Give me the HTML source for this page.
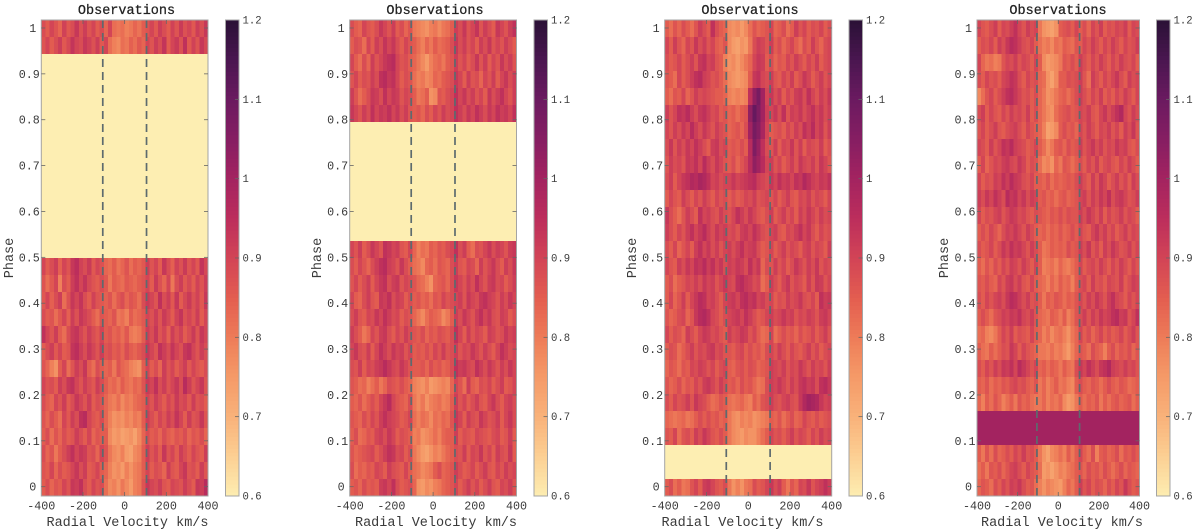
<!DOCTYPE html>
<html lang="en">
<head>
<meta charset="utf-8">
<title>Observations phase maps</title>
<style>
html,body{margin:0;padding:0;background:#fff;width:1200px;height:532px;overflow:hidden}
svg{display:block}
text{font-family:"Liberation Mono","DejaVu Sans Mono",monospace;fill:#3a3a3a}
</style>
</head>
<body>
<svg id="figure" xmlns="http://www.w3.org/2000/svg" width="1200" height="532" viewBox="0 0 1200 532"></svg>
<script>
const velocityTicks=[-400,-200,0,200,400];
const phaseTicks=[0,0.1,0.2,0.3,0.4,0.5,0.6,0.7,0.8,0.9,1];
const colorbarTicks=[0.6,0.7,0.8,0.9,1,1.1,1.2];
const markerVelocities=[-105,105];
const colormapColors=["#fdeeb2","#fccf93","#f9b27a","#f59a68","#ee7c58","#e35d50","#d24456","#bc2e5c","#a32360","#861e62","#6b1a60","#4a1650","#2a1136"];

// Flux values in hundredths, one array per phase row, top row first. A one-value row fills the whole row.
const panel1Rows=[
[88,84,90,86,82,91,85,88,94,87,92,86,90,84,88,82,90,80,78,80,76,78,82,79,84,86,90,85,92,88,84,91,86,93,87,90,85,92,88,94],
[86,90,84,88,92,85,89,95,90,88,94,91,87,92,85,90,80,76,74,80,78,83,80,85,82,90,86,92,88,95,84,90,93,87,96,85,91,86,94,89],
[60],[60],[60],[60],[60],[60],[60],[60],[60],[60],[60],[60],
[90,84,88,92,83,90,86,94,97,91,88,93,85,90,87,82,80,84,79,82,86,80,84,82,85,92,86,90,84,94,88,83,91,87,93,86,90,85,95,89],
[86,80,85,90,76,88,84,92,96,90,95,89,86,84,88,85,78,84,82,80,85,83,81,84,86,90,84,93,87,82,90,78,88,92,85,89,84,91,86,92],
[85,90,83,88,92,80,87,94,90,95,88,84,91,86,85,83,86,80,85,88,82,86,84,80,88,93,90,86,96,88,92,85,94,84,89,93,87,91,85,94],
[88,84,86,80,85,90,83,92,87,94,91,88,84,80,86,84,82,86,78,80,76,84,80,82,85,90,87,92,86,93,89,84,91,95,87,90,86,92,84,90],
[96,90,86,92,84,80,88,93,95,90,86,92,88,85,90,84,86,82,84,80,85,78,76,78,84,92,88,94,86,90,83,92,87,91,84,88,93,86,94,90],
[84,88,92,85,90,84,86,95,97,92,88,94,90,86,92,86,88,84,86,82,88,84,82,85,88,94,90,86,96,92,88,95,90,87,94,96,90,86,92,88],
[86,82,76,72,84,90,80,86,92,88,94,84,80,88,84,82,84,78,86,82,80,76,74,72,84,90,84,88,82,92,86,90,84,88,92,85,90,86,84,88],
[90,86,88,84,92,88,94,96,90,86,92,88,85,92,88,84,80,82,78,84,80,78,82,80,86,93,90,96,88,92,86,90,94,88,98,92,86,90,94,86],
[88,84,82,90,86,92,84,88,94,90,86,92,84,88,86,82,78,76,80,74,78,76,80,82,84,90,86,92,88,84,90,86,93,88,90,85,92,86,88,84],
[86,82,88,84,80,90,85,92,88,96,98,90,86,84,88,82,76,72,74,72,76,74,78,76,84,92,88,84,90,86,92,88,95,90,84,92,86,88,94,86],
[84,88,80,86,82,88,84,86,92,88,84,90,82,86,84,84,74,70,72,68,70,72,68,74,82,88,84,86,82,88,84,82,86,84,88,82,86,84,88,82],
[88,82,86,78,84,88,92,96,90,94,92,86,88,82,90,86,78,74,72,76,70,68,74,76,84,92,86,90,84,94,86,90,84,92,88,84,90,86,84,92],
[86,84,90,82,88,84,86,90,94,88,92,84,86,90,84,82,76,72,74,70,76,72,76,78,84,90,84,88,86,82,92,86,84,90,94,86,88,84,92,86],
[84,88,82,86,84,90,86,94,92,96,88,84,90,86,88,80,74,76,72,78,74,70,76,78,86,94,90,88,92,86,84,90,88,86,92,88,84,94,92,98]
];
const panel2Rows=[
[88,84,82,90,86,84,88,94,90,86,92,84,88,82,86,78,76,74,72,76,78,74,78,80,84,92,88,94,86,90,95,86,92,88,84,94,90,86,92,96],
[84,88,86,80,90,84,92,88,95,90,94,88,84,90,86,84,80,76,82,78,84,80,82,84,88,94,88,92,86,90,84,92,88,94,86,90,86,92,88,84],
[90,84,80,88,82,92,86,90,94,96,98,90,86,88,84,82,78,74,70,76,80,82,78,84,86,92,86,90,84,88,94,86,92,84,90,86,94,88,92,86],
[86,90,84,88,86,92,88,96,98,94,96,90,84,88,86,80,76,78,74,76,82,80,84,86,88,94,90,84,92,86,88,82,90,86,92,84,90,94,88,92],
[92,86,80,84,88,94,92,88,96,90,94,92,86,90,88,84,78,80,84,72,74,86,84,88,90,96,90,94,88,92,86,90,84,94,88,92,96,90,86,92],
[94,90,86,92,88,96,90,94,92,96,90,94,88,92,86,84,86,82,88,84,90,86,92,88,90,96,92,88,94,90,96,92,88,94,90,96,92,94,90,96],
[60],[60],[60],[60],[60],[60],[60],
[90,86,92,84,88,94,90,86,96,94,90,92,86,84,90,82,76,80,78,84,82,86,84,88,90,96,88,92,84,80,88,86,90,94,88,92,90,86,92,94],
[88,84,90,86,82,88,92,96,98,92,90,86,94,88,84,80,78,74,82,84,80,86,84,82,88,92,86,84,90,88,82,92,86,90,94,88,84,92,88,94],
[86,90,84,88,92,84,90,94,96,88,92,94,86,90,88,86,82,80,76,72,82,84,86,82,88,94,90,86,92,88,96,90,86,92,94,88,90,84,88,92],
[90,84,82,88,92,86,84,94,92,96,88,92,90,84,88,84,86,82,84,80,86,84,90,86,88,90,92,86,94,90,88,94,96,92,90,86,92,88,94,90],
[88,92,86,84,90,88,94,90,96,92,88,90,84,88,86,82,78,74,80,84,82,80,74,78,84,92,88,94,90,86,92,96,90,94,88,86,92,90,84,88],
[92,88,84,78,82,90,86,92,94,88,84,90,86,92,88,86,84,88,82,86,84,88,86,84,88,96,90,84,92,86,90,88,84,92,90,86,88,94,90,92],
[90,94,88,86,92,84,90,96,92,88,94,90,92,86,90,84,86,84,88,84,90,86,92,86,88,92,86,90,88,94,90,86,92,88,84,90,96,92,88,90],
[88,86,92,84,90,88,92,94,98,94,90,88,94,90,86,84,84,86,82,88,84,86,82,84,88,96,92,94,90,88,96,92,88,94,90,86,92,88,94,90],
[86,84,80,82,76,80,84,78,82,88,86,84,88,84,82,76,74,72,76,70,72,74,76,74,82,90,86,80,92,84,82,88,86,90,84,88,92,84,86,90],
[84,82,86,80,84,88,84,90,94,98,90,86,84,82,88,78,74,78,72,76,78,80,76,78,84,92,86,90,84,88,92,86,84,90,94,88,84,90,92,88],
[86,84,82,88,84,90,86,92,96,92,90,88,84,86,90,80,76,80,78,74,80,78,82,80,86,94,90,84,92,88,86,94,90,86,88,92,84,90,94,88],
[84,88,80,82,86,84,90,92,88,94,90,84,88,86,84,76,78,72,74,76,80,76,82,84,84,92,84,88,86,84,90,88,86,84,88,90,84,86,92,84],
[86,82,84,86,88,90,84,88,92,96,94,88,90,84,88,78,74,70,68,72,76,74,78,82,84,88,86,92,84,90,88,94,86,90,84,92,88,86,94,84],
[88,80,84,82,86,84,90,88,84,92,88,86,84,90,84,80,78,74,76,78,84,88,82,84,86,92,88,84,86,90,84,88,92,86,84,90,86,92,88,90],
[84,86,82,88,84,86,84,92,94,90,96,88,84,86,88,82,72,70,74,72,76,78,82,84,86,90,84,88,92,86,90,84,88,92,86,84,90,88,92,86]
];
const panel3Rows=[
[84,80,86,82,88,84,80,86,92,88,84,96,88,84,82,74,72,74,70,74,80,86,82,84,86,90,82,84,88,80,84,92,86,90,84,88,86,90,84,88],
[90,84,92,86,82,90,86,94,88,92,86,90,84,82,86,74,70,68,72,70,78,88,92,90,86,92,84,88,82,86,90,84,80,88,84,92,86,82,88,90],
[88,84,86,90,84,88,92,86,94,96,90,92,86,84,76,72,74,70,74,78,82,90,94,92,84,88,82,86,84,90,86,92,88,84,90,86,92,84,88,90],
[86,84,80,90,84,88,92,96,98,92,90,86,88,84,80,74,72,70,72,74,84,94,96,90,88,92,86,84,90,86,92,84,88,94,90,84,88,92,86,90],
[84,80,86,84,90,82,86,92,88,90,88,86,84,84,82,76,74,76,74,76,96,108,114,104,90,94,88,92,84,90,86,92,94,88,96,90,86,92,88,94],
[92,86,90,96,94,98,92,88,94,96,92,88,90,84,86,82,84,80,84,86,108,118,112,104,92,90,94,88,96,86,92,90,94,88,92,96,90,94,88,92],
[90,86,92,88,94,90,98,92,88,94,90,86,92,88,86,82,84,86,82,88,104,114,110,102,90,84,86,88,84,90,86,92,88,96,92,98,90,94,86,92],
[88,94,86,92,88,94,90,96,92,88,84,92,94,88,90,84,86,84,88,84,98,112,106,96,88,86,92,84,90,88,94,86,92,84,90,88,86,92,84,88],
[86,92,88,90,86,94,92,96,90,98,92,88,94,90,86,84,88,82,86,90,98,108,104,98,90,92,86,90,84,88,92,86,94,90,88,92,86,94,90,86],
[88,92,84,90,94,96,100,98,102,100,96,90,92,88,90,90,94,90,92,94,96,98,92,90,88,94,90,96,92,94,90,96,94,100,96,92,90,94,92,96],
[84,90,86,84,92,88,84,90,86,92,88,84,90,86,88,84,88,84,86,90,88,92,86,88,90,86,90,84,88,92,86,84,90,88,92,86,90,88,84,90],
[94,88,84,80,86,92,88,84,96,90,92,88,86,92,88,86,90,96,92,88,94,90,86,84,88,92,84,88,92,86,90,84,92,88,94,90,86,92,88,90],
[92,88,84,90,86,92,96,90,94,98,92,88,94,90,92,88,90,86,92,94,90,96,92,88,86,90,92,86,84,90,88,92,96,90,94,88,84,90,86,88],
[88,84,90,82,86,90,84,92,96,90,94,88,92,86,90,92,88,92,96,90,92,94,88,84,86,90,84,88,92,86,90,88,84,90,92,86,90,88,84,92],
[90,86,84,92,88,94,90,96,94,98,92,96,90,94,88,92,90,94,92,88,96,90,94,82,88,86,92,86,90,84,88,94,90,86,92,88,94,86,90,88],
[84,88,80,84,86,90,88,92,88,94,90,92,86,90,94,90,88,96,98,94,92,88,90,80,84,92,88,84,90,94,86,90,88,84,92,86,94,92,86,90],
[84,90,82,86,92,84,90,94,98,96,90,92,88,84,90,92,94,90,96,98,94,96,90,92,88,90,84,88,86,92,88,90,94,88,86,90,84,96,92,94],
[86,82,84,88,90,82,86,94,98,100,96,90,88,84,88,90,92,94,90,96,92,88,84,86,90,92,88,90,94,90,92,86,90,88,92,90,86,92,94,90],
[90,84,88,86,82,92,88,84,90,94,92,88,90,86,84,92,88,90,94,92,86,90,84,80,82,90,80,84,88,84,86,82,88,84,86,90,84,88,92,86],
[84,88,86,80,84,88,92,86,90,88,92,94,88,90,86,86,84,88,90,84,88,84,86,82,88,90,86,92,88,84,90,86,84,88,92,86,90,84,88,90],
[82,86,84,80,86,84,90,88,92,90,86,90,84,88,90,84,82,86,88,84,88,86,82,84,86,92,90,88,92,86,90,88,94,90,86,92,88,90,86,92],
[86,82,84,88,82,86,84,90,86,92,94,90,86,92,88,84,86,82,88,84,86,82,78,80,88,92,90,94,90,86,92,88,94,96,92,94,88,96,98,94],
[88,84,90,86,88,92,86,94,90,88,84,80,82,86,84,80,78,80,82,78,76,84,80,86,88,92,88,86,90,92,88,86,94,100,104,102,100,94,90,92],
[82,80,78,80,82,78,80,84,88,84,88,84,86,82,84,78,74,72,76,74,76,72,74,76,78,84,82,86,80,84,88,82,84,90,86,84,88,84,86,88],
[86,84,90,80,86,88,84,92,88,94,90,86,84,88,84,78,74,72,70,74,72,72,76,80,84,90,86,88,84,88,92,86,90,88,84,90,86,92,88,90],
[60],[60],
[84,88,80,84,78,80,86,90,84,92,94,90,86,84,88,78,72,76,72,78,80,88,84,86,90,94,88,92,84,78,86,82,90,88,94,86,90,92,96,92]
];
const panel4Rows=[
[90,86,84,88,92,84,90,88,92,96,90,86,92,88,90,78,72,70,68,72,84,86,88,84,90,84,88,82,90,86,92,84,88,86,90,88,92,84,90,88],
[84,88,86,90,84,92,88,94,98,96,92,88,86,90,84,80,76,78,74,80,78,84,82,80,86,84,90,86,92,88,84,90,86,92,88,84,90,86,88,92],
[90,82,78,80,76,78,86,90,88,92,86,90,88,84,90,84,74,70,72,74,78,86,84,88,84,92,88,84,90,86,92,88,84,90,86,92,88,86,90,84],
[88,84,90,86,88,84,90,92,96,94,88,84,90,86,88,82,80,72,68,74,84,84,88,86,88,92,86,80,92,88,84,90,86,90,94,88,84,92,88,90],
[74,80,86,90,84,88,92,96,98,94,90,86,88,84,88,82,78,72,74,78,82,84,80,84,88,92,88,84,90,86,92,84,88,84,90,86,92,88,84,90],
[88,92,84,90,86,84,90,86,92,88,90,86,92,84,88,82,78,74,72,80,84,86,88,84,86,90,88,92,86,84,90,94,88,92,96,100,90,86,92,88],
[86,90,84,88,92,86,84,88,90,92,88,84,90,86,84,82,76,68,70,74,84,88,84,86,82,90,86,92,88,84,90,88,92,86,90,84,92,88,94,86],
[90,88,84,92,86,90,96,94,98,92,90,88,84,86,90,84,80,74,78,84,86,82,88,84,86,92,86,90,94,88,92,86,90,88,94,90,92,86,84,88],
[84,90,82,86,90,88,92,94,90,88,94,90,84,88,86,80,74,76,72,82,78,86,84,80,84,88,84,90,86,92,84,88,90,86,84,90,86,92,88,84],
[90,84,88,86,92,90,96,92,98,94,92,88,86,90,84,84,82,86,80,84,82,84,86,84,88,92,88,84,92,86,94,90,84,88,92,86,90,84,92,88],
[92,88,94,90,96,92,88,98,94,96,90,94,88,92,90,84,86,82,84,80,84,86,82,84,86,90,92,86,92,88,94,90,96,88,92,94,90,86,88,92],
[90,84,88,86,90,92,86,90,94,92,88,90,86,84,88,86,84,82,86,84,88,84,88,86,86,92,88,94,90,86,92,84,90,86,88,92,86,90,88,84],
[84,88,84,90,86,82,88,92,90,94,90,86,92,88,84,82,84,80,84,82,86,82,84,88,84,90,86,84,90,94,88,92,86,90,84,88,92,86,90,88],
[88,84,86,90,84,88,94,90,96,92,94,90,86,92,88,84,78,80,84,82,84,82,88,84,86,92,88,94,86,90,84,92,88,94,90,86,88,92,86,90],
[84,80,86,82,88,84,90,86,92,90,86,92,88,84,90,84,76,78,80,76,82,78,76,80,84,90,84,88,90,86,92,88,84,90,86,92,88,84,90,86],
[86,84,88,84,82,90,86,92,94,88,92,86,84,90,84,82,80,76,82,78,84,80,82,76,84,88,90,84,92,86,88,84,90,88,86,92,84,88,92,90],
[88,84,90,86,90,92,88,94,98,96,92,88,92,86,88,84,78,84,82,86,84,80,84,82,86,90,86,92,88,94,90,86,92,96,90,88,84,90,86,90],
[84,88,84,80,86,88,92,90,94,92,96,90,88,92,86,82,80,78,84,82,78,84,76,80,86,88,92,86,92,88,94,90,92,96,98,92,94,86,90,96],
[80,82,76,74,78,84,90,86,92,84,88,86,84,90,84,82,76,80,74,78,80,76,72,78,82,90,84,88,82,86,90,84,88,84,86,90,84,88,92,86],
[84,80,78,84,80,84,88,86,94,90,84,90,86,84,82,78,78,76,80,76,78,74,70,76,82,86,84,80,88,84,82,76,84,88,82,86,84,88,82,86],
[88,84,90,86,92,88,94,92,96,90,98,94,90,86,90,82,84,80,84,82,78,84,80,78,88,94,90,96,92,88,94,96,100,92,90,88,92,88,90,86],
[84,82,86,80,84,82,86,84,88,90,86,88,84,82,86,78,82,76,80,84,78,80,76,74,84,88,84,82,86,84,80,84,88,84,82,86,84,80,82,84],
[82,76,84,80,86,82,76,80,84,78,86,82,84,80,78,78,82,76,80,78,82,74,70,72,78,84,80,84,82,86,78,84,80,84,86,82,84,86,80,84],
[100],[100],
[84,78,86,80,88,82,84,88,84,90,86,92,86,88,84,78,72,68,74,76,80,76,84,78,84,90,84,80,88,76,84,86,82,84,88,80,86,84,88,84],
[80,84,78,86,84,88,82,86,90,92,88,84,90,86,84,80,70,72,68,72,76,74,78,80,84,86,82,88,84,86,82,88,84,80,84,88,82,86,84,82],
[82,86,84,80,88,84,90,86,92,90,94,88,84,86,80,76,72,76,74,72,70,76,82,78,84,92,86,90,84,88,86,82,88,84,90,86,94,88,84,86]
];

const SVG_NS="http://www.w3.org/2000/svg";
const fig=document.getElementById("figure");
const phaseMin=-0.0203,phaseMax=1.0174,plotTop=20,plotBottom=496;
const velMin=-400,velMax=400,colorMin=0.6,colorMax=1.2;
const toneCenter=0.89,toneGain=0.75;

const panels=[
 {rows:panel1Rows,left:41.3,right:208,cbLeft:225.5,cbRight:239,titleX:126.5,xLabelX:127.5,yLabelX:9},
 {rows:panel2Rows,left:349.7,right:516.5,cbLeft:534,cbRight:547.5,titleX:435,xLabelX:436,yLabelX:317},
 {rows:panel3Rows,left:664.7,right:831.7,cbLeft:849,cbRight:862.5,titleX:750,xLabelX:742.5,yLabelX:632},
 {rows:panel4Rows,left:977,right:1139.5,cbLeft:1156.5,cbRight:1170,titleX:1058,xLabelX:1062,yLabelX:944}
];

function make(parent,tag,attrs,content){
 const el=document.createElementNS(SVG_NS,tag);
 for(const k in attrs){el.setAttribute(k,attrs[k]);}
 if(content!==undefined){el.textContent=content;}
 parent.appendChild(el);
 return el;
}
function yOfPhase(p){return plotBottom-(p-phaseMin)/(phaseMax-phaseMin)*(plotBottom-plotTop);}
function yOfColor(v){return plotBottom-(v-colorMin)/(colorMax-colorMin)*(plotBottom-plotTop);}
function xOfVelocity(panel,v){return panel.left+(v-velMin)/(velMax-velMin)*(panel.right-panel.left);}
function colorOf(v){
 const t=Math.max(0,Math.min(1,(v-colorMin)/(colorMax-colorMin)))*(colormapColors.length-1);
 const i=Math.min(Math.floor(t),colormapColors.length-2),f=t-i;
 const a=colormapColors[i],b=colormapColors[i+1];
 const ch=n=>Math.round(parseInt(a.substr(n,2),16)*(1-f)+parseInt(b.substr(n,2),16)*f);
 return "rgb("+ch(1)+","+ch(3)+","+ch(5)+")";
}
function cellValue(val,row){
 const v=val/100;
 return row.length>1?toneCenter+(v-toneCenter)*toneGain:v;
}

panels.forEach(function(panel,pi){
 const g=make(fig,"g",{});
 
 

 const heat=make(g,"g",{"shape-rendering":"crispEdges"});
 
 
 const nRows=panel.rows.length;
 const phaseStep=(phaseMax-phaseMin)/nRows;
 panel.rows.forEach(function(row,ri){
  const yTop=yOfPhase(phaseMax-ri*phaseStep);
  const yBot=yOfPhase(phaseMax-(ri+1)*phaseStep);
  const velStep=(velMax-velMin)/row.length;
  row.forEach(function(val,ci){
   const x0=xOfVelocity(panel,velMin+ci*velStep);
   const x1=xOfVelocity(panel,velMin+(ci+1)*velStep);
   const cell=make(heat,"rect",{x:x0.toFixed(2),y:yTop.toFixed(2),width:(x1-x0+0.3).toFixed(2),height:(yBot-yTop+0.3).toFixed(2),fill:colorOf(cellValue(val,row))});
   
   
  });
 });

 markerVelocities.forEach(function(v){
  const x=xOfVelocity(panel,v);
  const ln=make(g,"line",{x1:x,x2:x,y1:plotTop,y2:plotBottom,stroke:"#5d6b6e","stroke-width":1.7,"stroke-dasharray":"8,5"});
  
  
 });

 const box=make(g,"rect",{x:panel.left,y:plotTop,width:panel.right-panel.left,height:plotBottom-plotTop,fill:"none",stroke:"#a4a4a4","stroke-width":1});
 
 

 velocityTicks.forEach(function(v){
  const x=xOfVelocity(panel,v);
  if(v!==velMin&&v!==velMax){
   const t1=make(g,"line",{x1:x,x2:x,y1:plotBottom,y2:plotBottom-4,stroke:"#666","stroke-width":0.8});
   
   
   const t2=make(g,"line",{x1:x,x2:x,y1:plotTop,y2:plotTop+4,stroke:"#666","stroke-width":0.8});
   
   
  }
  const lab=make(g,"text",{x:x,y:509.5,"text-anchor":"middle","font-size":"11.7"},String(v));
  
  
 });

 phaseTicks.forEach(function(p){
  const y=yOfPhase(p);
  const t1=make(g,"line",{x1:panel.left,x2:panel.left+4,y1:y,y2:y,stroke:"#666","stroke-width":0.8});
  
  
  const t2=make(g,"line",{x1:panel.right,x2:panel.right-4,y1:y,y2:y,stroke:"#666","stroke-width":0.8});
  
  
  const whole=Number.isInteger(p);
  const lab=make(g,"text",{x:panel.left-(whole?5:1.5),y:y+4,"text-anchor":"end","font-size":"11.7"},String(p));
  
  
 });

 const title=make(g,"text",{x:panel.titleX,y:14,"text-anchor":"middle","font-size":"13.5",style:"fill:#222",stroke:"#222","stroke-width":"0.25"},"Observations");
 
 

 const xl=make(g,"text",{x:panel.xLabelX,y:526,"text-anchor":"middle","font-size":"13.5"},"Radial Velocity km/s");
 
 

 const yl=make(g,"text",{x:panel.yLabelX+4,y:258,"text-anchor":"middle","font-size":"13.5",transform:"rotate(-90 "+(panel.yLabelX+4)+" 258)"},"Phase");
 
 

 const cb=make(g,"g",{});
 
 
 const cbSteps=120;
 for(let i=0;i<cbSteps;i++){
  const lo=colorMin+(colorMax-colorMin)*i/cbSteps;
  const hi=colorMin+(colorMax-colorMin)*(i+1)/cbSteps;
  const s=make(cb,"rect",{x:panel.cbLeft,y:yOfColor(hi).toFixed(2),width:panel.cbRight-panel.cbLeft,height:(yOfColor(lo)-yOfColor(hi)+0.4).toFixed(2),fill:colorOf((lo+hi)/2),"shape-rendering":"crispEdges"});
  
  
 }
 const cbBox=make(cb,"rect",{x:panel.cbLeft,y:plotTop,width:panel.cbRight-panel.cbLeft,height:plotBottom-plotTop,fill:"none",stroke:"#a4a4a4","stroke-width":1});
 
 
 colorbarTicks.forEach(function(v){
  const y=yOfColor(v);
  if(v!==colorMin&&v!==colorMax){
   const t=make(cb,"line",{x1:panel.cbRight,x2:panel.cbRight-4,y1:y,y2:y,stroke:"#666","stroke-width":0.8});
   
   
  }
  const lab=make(cb,"text",{x:panel.cbRight+3.5,y:y+3.5,"font-size":"10.6"},String(v));
  
  
 });
});
</script>
</body>
</html>
